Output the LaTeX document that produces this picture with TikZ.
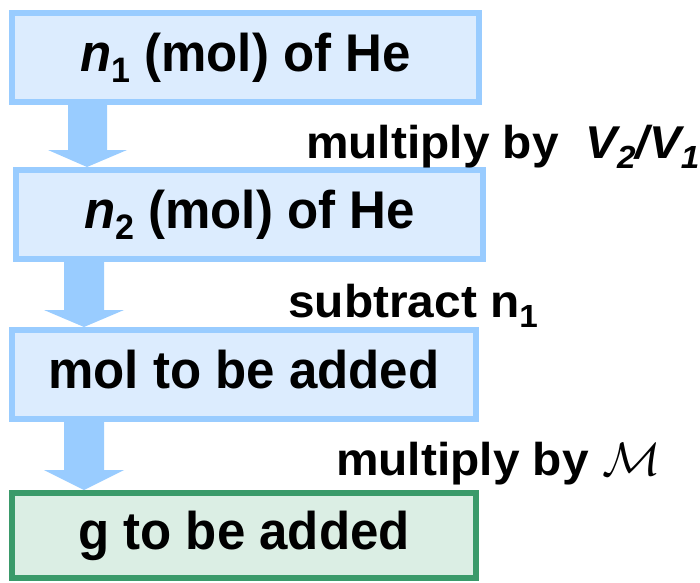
\documentclass[tikz,border=0pt]{standalone}
\usepackage{fontspec}
\setmainfont{Liberation Sans}
\usetikzlibrary{calc}
\definecolor{boxblue}{HTML}{99CCFF}
\definecolor{fillblue}{HTML}{DCECFE}
\definecolor{boxgreen}{HTML}{3A9A6A}
\definecolor{fillgreen}{HTML}{DBEEE4}
\newcommand\bxsub[1]{{\fontsize{34}{36}\selectfont\raisebox{-11pt}{#1}}}
\newcommand\lbsub[1]{{\fontsize{32}{34}\selectfont\raisebox{-10pt}{#1}}}
\newcommand\boxtext[1]{\scalebox{1.0}[1.04]{\fontsize{51}{60}\selectfont\bfseries #1}}
\newcommand\labtext[1]{\scalebox{1.04}[1]{\fontsize{46}{54}\selectfont\bfseries #1}}
\tikzset{
  stepbox/.style={draw=boxblue, fill=fillblue, line width=6pt, rectangle,
    inner sep=0pt, text height=38pt, text depth=11pt},
  greenbox/.style={stepbox, draw=boxgreen, fill=fillgreen},
  flow/.style={fill=boxblue, draw=none},
  lab/.style={inner sep=0pt, anchor=base west}
}
\begin{document}
\begin{tikzpicture}[x=1pt,y=-1pt]
\useasboundingbox (0,0) rectangle (700,582);
\node[stepbox, minimum width=467pt, minimum height=89pt] (b1) at (245.5,57.5)
  {\boxtext{\textit{n}\bxsub{1} (mol) of He}};
\node[stepbox, minimum width=467pt, minimum height=89pt] (b2) at (249.5,214.5)
  {\boxtext{\textit{n}\bxsub{2} (mol) of He}};
\node[stepbox, minimum width=464pt, minimum height=89pt] (b3) at (244,374.5)
  {\boxtext{mol to be added}};
\node[greenbox, minimum width=464pt, minimum height=85pt] (b4) at (244,535.5)
  {\boxtext{g to be added}};
\fill[flow] (68,0 |- b1.south) -- (107,0 |- b1.south) -- (107,150) -- (127,150)
  -- (87,0 |- b2.north) -- (48,150) -- (68,150) -- cycle;
\fill[flow] (64,0 |- b2.south) -- (104,0 |- b2.south) -- (104,310) -- (124,310)
  -- (84,0 |- b3.north) -- (44,310) -- (64,310) -- cycle;
\fill[flow] (64,0 |- b3.south) -- (104,0 |- b3.south) -- (104,470) -- (124,470)
  -- (84,0 |- b4.north) -- (44,470) -- (64,470) -- cycle;
\node[lab] (l1) at (306,158)
  {\labtext{multiply by\ \ {\itshape V\lbsub{2}/V\lbsub{1}}}};
\node[lab] (l2) at (288,317) {\labtext{subtract n\lbsub{1}}};
\node[lab] (l3) at (336,475)
  {\labtext{multiply by \resizebox{!}{32pt}{$\mathcal{M}$}}};
\end{tikzpicture}
\end{document}
